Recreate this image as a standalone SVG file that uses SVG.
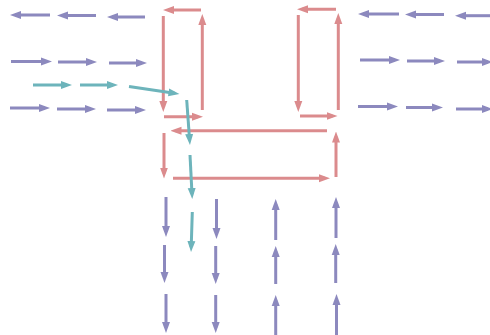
<svg xmlns="http://www.w3.org/2000/svg" width="490" height="335" viewBox="0 0 490 335">
<style>
.p{stroke:#8c89be;stroke-width:3;fill:none;marker-end:url(#mp)}
.r{stroke:#db8b8d;stroke-width:3;fill:none;marker-end:url(#mr)}
.t{stroke:#6db4bb;stroke-width:3;fill:none;marker-end:url(#mt)}
</style>
<defs>
<marker id="mp" markerUnits="userSpaceOnUse" markerWidth="11" markerHeight="9" viewBox="0 0 11 9" refX="6" refY="4.5" orient="auto"><path d="M0,0.5 L11,4.5 L0,8.5 z" fill="#8c89be"/></marker>
<marker id="mr" markerUnits="userSpaceOnUse" markerWidth="11" markerHeight="9" viewBox="0 0 11 9" refX="6" refY="4.5" orient="auto"><path d="M0,0.5 L11,4.5 L0,8.5 z" fill="#db8b8d"/></marker>
<marker id="mt" markerUnits="userSpaceOnUse" markerWidth="11" markerHeight="9" viewBox="0 0 11 9" refX="6" refY="4.5" orient="auto"><path d="M0,0.5 L11,4.5 L0,8.5 z" fill="#6db4bb"/></marker>
</defs>
<rect width="490" height="335" fill="#ffffff"/>
<g id="purple">
<line class="p" x1="50" y1="15" x2="15" y2="15"/>
<line class="p" x1="96" y1="15.5" x2="62" y2="15.5"/>
<line class="p" x1="145" y1="17" x2="112" y2="17"/>
<line class="p" x1="11" y1="61.5" x2="47" y2="61.5"/>
<line class="p" x1="58" y1="62" x2="92" y2="62"/>
<line class="p" x1="109" y1="63" x2="142" y2="63"/>
<line class="p" x1="10" y1="108" x2="45" y2="108"/>
<line class="p" x1="57" y1="109" x2="91" y2="109"/>
<line class="p" x1="107" y1="110" x2="141" y2="110"/>
<line class="p" x1="399" y1="14" x2="363" y2="14"/>
<line class="p" x1="444" y1="14.5" x2="410" y2="14.5"/>
<line class="p" x1="492" y1="15.7" x2="460" y2="15.7"/>
<line class="p" x1="360" y1="60" x2="395" y2="60"/>
<line class="p" x1="407" y1="61" x2="440" y2="61"/>
<line class="p" x1="457" y1="62" x2="488" y2="62"/>
<line class="p" x1="358" y1="106.5" x2="393" y2="106.5"/>
<line class="p" x1="406" y1="107.5" x2="438" y2="107.5"/>
<line class="p" x1="456" y1="109" x2="488" y2="109"/>
<line class="p" x1="166" y1="197" x2="166" y2="232"/>
<line class="p" x1="164.5" y1="245" x2="164.5" y2="278"/>
<line class="p" x1="166" y1="294" x2="166" y2="328"/>
<line class="p" x1="216.5" y1="199" x2="216.5" y2="234"/>
<line class="p" x1="215.7" y1="246" x2="215.7" y2="279"/>
<line class="p" x1="215.7" y1="295" x2="215.7" y2="328"/>
<line class="p" x1="275.7" y1="240" x2="275.7" y2="204"/>
<line class="p" x1="275.7" y1="284" x2="275.7" y2="251"/>
<line class="p" x1="275.7" y1="336" x2="275.7" y2="300"/>
<line class="p" x1="336" y1="238" x2="336" y2="202"/>
<line class="p" x1="335.7" y1="283" x2="335.7" y2="249"/>
<line class="p" x1="336.5" y1="336" x2="336.5" y2="299"/>
</g>
<g id="red">
<line class="r" x1="201" y1="10" x2="168" y2="10"/>
<line class="r" x1="163.3" y1="16" x2="163.3" y2="107"/>
<line class="r" x1="202.3" y1="110" x2="202.3" y2="19"/>
<line class="r" x1="164" y1="116.7" x2="198" y2="116.7"/>
<line class="r" x1="336" y1="9.3" x2="302" y2="9.3"/>
<line class="r" x1="298.3" y1="15" x2="298.3" y2="107"/>
<line class="r" x1="338.3" y1="110" x2="338.3" y2="18"/>
<line class="r" x1="300" y1="116" x2="332.5" y2="116"/>
<line class="r" x1="327" y1="130.7" x2="175.5" y2="130.7"/>
<line class="r" x1="164" y1="133" x2="164" y2="173.5"/>
<line class="r" x1="173" y1="178.3" x2="325" y2="178.3"/>
<line class="r" x1="336" y1="177" x2="336" y2="136.5"/>
</g>
<g id="teal">
<line class="t" x1="33" y1="85" x2="67" y2="85"/>
<line class="t" x1="80" y1="85" x2="113" y2="85"/>
<line class="t" x1="129" y1="86.5" x2="174.5" y2="93.3"/>
<line class="t" x1="186.7" y1="100" x2="189.6" y2="140"/>
<line class="t" x1="190" y1="155" x2="192" y2="194"/>
<line class="t" x1="192.3" y1="212" x2="191.2" y2="247"/>
</g>
</svg>
